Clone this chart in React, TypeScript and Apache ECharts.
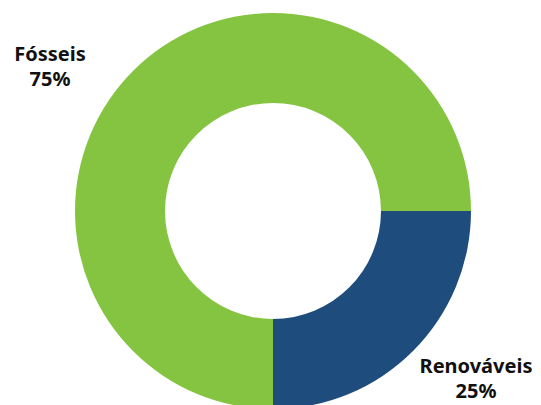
import React, { useEffect, useRef } from "react";
import * as echarts from "echarts";

const categories = ["Renováveis", "Fósseis"];
const values = [25, 75];
const colors = ["#1e4c7d", "#84c441"];
const labelPositions = [
  [476, 365],
  [50, 53],
];

export default function App() {
  const ref = useRef<HTMLDivElement>(null);
  useEffect(() => {
    document.body.style.margin = "0";
    const chart = echarts.init(ref.current!, null, { renderer: "svg" });
    const font = "bold 20px 'Noto Sans'";
    chart.setOption({
      animation: false,
      backgroundColor: "#ffffff",
      series: [
        {
          type: "pie",
          center: [273, 211],
          radius: [108, 198],
          startAngle: 0,
          clockwise: true,
          label: { show: false },
          labelLine: { show: false },
          emphasis: { disabled: true },
          itemStyle: { borderWidth: 0 },
          data: categories.map((c, i) => ({
            name: c,
            value: values[i],
            itemStyle: { color: colors[i] },
          })),
        },
      ],
      graphic: categories.flatMap((c, i) => [
        {
          type: "text",
          x: labelPositions[i][0],
          y: labelPositions[i][1],
          style: {
            text: c,
            font,
            fill: "#111111",
            textAlign: "center",
            textVerticalAlign: "middle",
          },
        },
        {
          type: "text",
          x: labelPositions[i][0],
          y: labelPositions[i][1] + 25,
          style: {
            text: `${values[i]}%`,
            font,
            fill: "#111111",
            textAlign: "center",
            textVerticalAlign: "middle",
          },
        },
      ]),
    });
    return () => chart.dispose();
  }, []);
  return <div ref={ref} style={{ width: 541, height: 405 }} />;
}
